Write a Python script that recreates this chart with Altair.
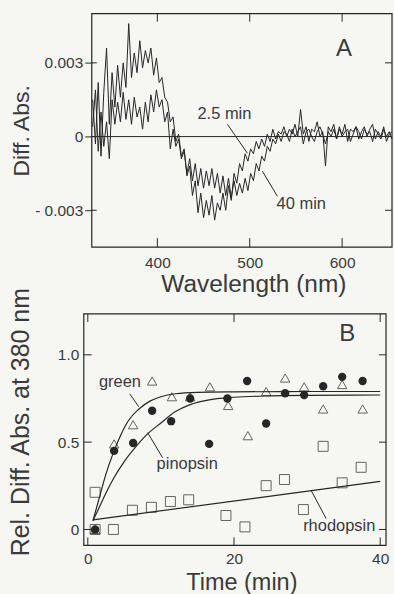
import altair as alt
import pandas as pd

# ---------------- data ----------------
wavelength_nm = list(range(330, 655, 3))

diff_abs_2_5min_mAbs = [
    1.5, -0.3, 2.2, -0.8, 1.8, 3.6, 0.5, 2.6, 1.2, 2.9,
    1.6, 3.0, 2.0, 4.6, 2.4, 3.4, 2.6, 3.9, 2.8, 3.5,
    3.0, 3.6, 2.5, 3.2, 2.2, 2.4, 1.6, 1.4, 0.6, 0.8,
    -0.2, 0.1, -0.8, -0.5, -1.6, -1.2, -2.4, -1.8, -3.1, -2.3,
    -3.3, -2.6, -3.2, -2.4, -3.4, -2.7, -3.0, -2.3, -3.0, -2.0,
    -2.6, -1.5, -1.9, -1.1, -1.4, -0.7, -1.0, -0.5, -0.7, -0.2,
    -0.5, -0.1, -0.4, 0.1, -0.2, 0.3, -0.1, 0.2, 0.1, 0.4,
    0.0, 0.3, 0.1, 0.5, 0.0, 1.1, 0.1, 0.4, -0.2, 0.3,
    0.2, 0.6, 0.0, 0.2, -1.2, 0.4, 0.2, 0.5, -0.1, 0.3,
    0.1, 0.5, -0.2, 0.3, 0.2, 0.4, -0.1, 0.2, 0.4, 0.0,
    0.3, 0.5, -0.1, 0.2, 0.0, 0.4, -0.2, 0.1, 0.2,
]

diff_abs_40min_mAbs = [
    0.4, 1.9, -0.6, 1.0, -0.4, 0.6, -0.9, 1.5, 0.5, 1.4,
    0.6, 1.8, 0.7, 1.5, 0.5, 1.6, 0.8, 1.2, 0.3, 1.4,
    0.6, 1.7, 1.0, 1.9, 1.2, 1.5, 0.6, 1.0, -0.5, 0.3,
    -0.4, -0.1, -0.9, -0.6, -1.5, -0.9, -1.8, -1.1, -2.0, -1.3,
    -2.1, -1.4, -2.0, -1.3, -2.1, -1.5, -2.3, -1.6, -2.4, -1.7,
    -2.5, -1.8, -2.4, -1.9, -2.3, -1.7, -2.2, -1.5, -1.8, -1.1,
    -1.4, -0.8, -1.0, -0.4, -0.6, -0.1, -0.3, 0.1, -0.2, 0.2,
    0.1, -0.2, 0.3, 0.0, 0.2, 0.4, -0.3, 0.2, 0.3, 0.0,
    -0.2, 0.2, 0.4, 0.1, -0.3, 0.2, 0.0, 0.3, -0.1, 0.4,
    0.0, 0.2, 0.3, -0.2, 0.1, 0.4, 0.2, -0.1, 0.3, 0.1,
    0.2, -0.2, 0.3, 0.1, -0.1, 0.3, 0.0, 0.2, -0.1,
]

time_pinopsin = [1.0, 3.6, 6.2, 8.8, 11.4, 14.0, 16.6, 19.1, 21.8, 24.4, 27.0, 29.6, 32.2, 34.8, 37.6]
rel_pinopsin = [0.0, 0.45, 0.495, 0.68, 0.62, 0.75, 0.49, 0.75, 0.85, 0.607, 0.78, 0.77, 0.82, 0.874, 0.85]

time_green = [1.0, 3.6, 6.2, 8.8, 11.5, 14.0, 16.7, 19.2, 21.9, 24.4, 27.0, 29.6, 32.2, 34.8, 37.6]
rel_green = [0.0, 0.49, 0.60, 0.85, 0.76, 0.76, 0.817, 0.71, 0.537, 0.79, 0.867, 0.817, 0.69, 0.83, 0.69]

time_rhodopsin = [1.0, 1.0, 3.5, 6.1, 8.7, 11.3, 13.8, 18.9, 21.5, 24.4, 26.9, 29.5, 32.2, 34.8, 37.4]
rel_rhodopsin = [0.213, 0.0, 0.0, 0.11, 0.127, 0.16, 0.17, 0.08, 0.015, 0.251, 0.286, 0.114, 0.476, 0.267, 0.356]

fit_green_t = [0.7, 1.5, 2.5, 3.5, 4.5, 5.5, 7.0, 8.5, 10.0, 12.0, 15.0, 20.0, 30.0, 40.0]
fit_green_v = [0.05, 0.17, 0.32, 0.44, 0.54, 0.62, 0.69, 0.735, 0.76, 0.777, 0.785, 0.788, 0.79, 0.79]

fit_pinopsin_t = [0.7, 1.5, 2.5, 3.5, 5.0, 6.5, 8.0, 10.0, 12.0, 14.0, 17.0, 20.0, 25.0, 30.0, 40.0]
fit_pinopsin_v = [0.05, 0.12, 0.21, 0.29, 0.39, 0.47, 0.54, 0.61, 0.675, 0.715, 0.745, 0.757, 0.765, 0.768, 0.77]

fit_rhodopsin_t = [0.7, 40.0]
fit_rhodopsin_v = [0.055, 0.275]

spec_y_ticks = [0.003, 0.0, -0.003]
wl_ticks = [400, 500, 600]
time_ticks = [0, 20, 40]
rel_ticks = [0.0, 0.5, 1.0]

# ---------------- style ----------------
FONT = "Liberation Sans"
INK = "#262626"
TXT = "#3a3a3a"
BG = "#f6f6f3"
WA, HA = 301, 234
WB, HB = 295, 232

xA = alt.Scale(domain=[329, 654], nice=False, zero=False)
yA = alt.Scale(domain=[-0.0045, 0.005], nice=False, zero=False)
xB = alt.Scale(domain=[-0.55, 40.8], range=[-8, WB], nice=False, zero=False)
yB = alt.Scale(domain=[-0.091, 1.234], nice=False, zero=False)

axXA = alt.Axis(values=wl_ticks, title="Wavelength (nm)", format="d", ticks=False, domain=False,
                grid=False, labelPadding=8, titleX=162, titleY=37, titleBaseline="middle",
                titleFontSize=24.5)
axYA = alt.Axis(values=spec_y_ticks, title="Diff. Abs.", ticks=True, tickSize=7, tickColor=INK,
                domain=False, grid=False, labelPadding=2, titleX=-70, titleBaseline="middle",
                titleFontSize=23,
                labelExpr="datum.value > 0 ? format(datum.value, '.3f') : (datum.value < 0 ? '- ' + format(-datum.value, '.3f') : '0')")
axXB = alt.Axis(values=time_ticks, title="Time (min)", format="d", ticks=False, domain=False, grid=False,
                labelPadding=6, titleX=150, titleY=37.5, titleBaseline="middle", titleFontSize=23.5)
axYB = alt.Axis(values=rel_ticks, title="Rel. Diff. Abs. at 380 nm", ticks=False, domain=False, grid=False,
                offset=8, labelPadding=5, titleX=-63, titleY=108, titleBaseline="middle",
                titleFontSize=25,
                labelExpr="datum.value == 0 ? '0' : format(datum.value, '.1f')")


def XA(f):
    return alt.X(f, type="quantitative", scale=xA, axis=axXA)


def YA(f):
    return alt.Y(f, type="quantitative", scale=yA, axis=axYA)


def XB(f):
    return alt.X(f, type="quantitative", scale=xB, axis=axXB)


def YB(f):
    return alt.Y(f, type="quantitative", scale=yB, axis=axYB)


one = pd.DataFrame({"k": [0]})

# ---------------- panel A ----------------
n = len(wavelength_nm)
spec_df = pd.DataFrame({
    "nm": wavelength_nm * 2,
    "mAbs": diff_abs_2_5min_mAbs + diff_abs_40min_mAbs,
    "series": ["2.5 min"] * n + ["40 min"] * n,
})
spec_df["absorb"] = spec_df["mAbs"] / 1000.0

traces = alt.Chart(spec_df).mark_line(color=INK, strokeWidth=1.0).encode(
    x=XA("nm"), y=YA("absorb"), detail="series:N")

zeroA = alt.Chart(pd.DataFrame({"absorb": [0.0]})).mark_rule(color=INK, strokeWidth=1).encode(
    y=YA("absorb"), x=alt.value(0), x2=alt.value(WA))

frameA = alt.Chart(one).mark_rect(fillOpacity=0, stroke=INK, strokeWidth=1.2).encode(
    x=alt.value(0), x2=alt.value(WA), y=alt.value(0), y2=alt.value(HA))

wl_df = pd.DataFrame({"nm": wl_ticks})
sy_df = pd.DataFrame({"absorb": spec_y_ticks})
tA_top = alt.Chart(wl_df).mark_rule(color=INK).encode(x=XA("nm"), y=alt.value(0), y2=alt.value(8))
tA_bot = alt.Chart(wl_df).mark_rule(color=INK).encode(x=XA("nm"), y=alt.value(HA - 9), y2=alt.value(HA))
tA_left = alt.Chart(sy_df).mark_rule(color=INK).encode(y=YA("absorb"), x=alt.value(0), x2=alt.value(5))
tA_right = alt.Chart(sy_df).mark_rule(color=INK).encode(y=YA("absorb"), x=alt.value(WA - 7), x2=alt.value(WA))

labA = pd.DataFrame({"nm": [472.6, 555.8], "absorb": [0.0009, -0.00275], "t": ["2.5 min", "40 min"]})
textA = alt.Chart(labA).mark_text(font=FONT, fontSize=16.5, color=TXT).encode(
    x=XA("nm"), y=YA("absorb"), text="t:N")
letterA = alt.Chart(pd.DataFrame({"nm": [602.0], "absorb": [0.00358], "t": ["A"]})).mark_text(
    font=FONT, fontSize=24, color=TXT).encode(x=XA("nm"), y=YA("absorb"), text="t:N")
leadA = pd.DataFrame({"nm": [475.9, 513.7], "absorb": [0.000495, -0.00141],
                      "nm2": [497.5, 529.9], "absorb2": [-0.00068, -0.00243]})
leadersA = alt.Chart(leadA).mark_rule(color=INK, strokeWidth=1).encode(
    x=XA("nm"), y=YA("absorb"), x2="nm2:Q", y2="absorb2:Q")

panelA = alt.layer(traces, zeroA, tA_top, tA_bot, tA_left, tA_right,
                   leadersA, textA, letterA, frameA).properties(width=WA, height=HA)

# ---------------- panel B ----------------
fits = pd.DataFrame({
    "t": fit_green_t + fit_pinopsin_t + fit_rhodopsin_t,
    "v": fit_green_v + fit_pinopsin_v + fit_rhodopsin_v,
    "fit": ["green"] * len(fit_green_t) + ["pinopsin"] * len(fit_pinopsin_t) + ["rhodopsin"] * len(fit_rhodopsin_t),
})
fitlines = alt.Chart(fits).mark_line(color=INK, strokeWidth=1.2, interpolate="monotone").encode(
    x=XB("t"), y=YB("v"), detail="fit:N")

pin_df = pd.DataFrame({"t": time_pinopsin, "v": rel_pinopsin})
grn_df = pd.DataFrame({"t": time_green, "v": rel_green})
rho_df = pd.DataFrame({"t": time_rhodopsin, "v": rel_rhodopsin})

squares = alt.Chart(rho_df).mark_point(shape="square", filled=False, size=100, color=INK, strokeWidth=1).encode(
    x=XB("t"), y=YB("v"))
triangles = alt.Chart(grn_df).mark_point(shape="triangle-up", filled=False, size=90, color=INK, strokeWidth=1).encode(
    x=XB("t"), y=YB("v"))
circles = alt.Chart(pin_df).mark_point(shape="circle", filled=True, size=70, color=INK, opacity=1).encode(
    x=XB("t"), y=YB("v"))

frameB = alt.Chart(one).mark_rect(fillOpacity=0, stroke=INK, strokeWidth=1.2).encode(
    x=alt.value(-8), x2=alt.value(WB), y=alt.value(0), y2=alt.value(HB))

tt_df = pd.DataFrame({"t": time_ticks})
rt_df = pd.DataFrame({"v": rel_ticks})
tB_top = alt.Chart(tt_df).mark_rule(color=INK).encode(x=XB("t"), y=alt.value(0), y2=alt.value(8))
tB_bot = alt.Chart(tt_df).mark_rule(color=INK).encode(x=XB("t"), y=alt.value(HB - 8), y2=alt.value(HB))
tB_left = alt.Chart(rt_df).mark_rule(color=INK).encode(y=YB("v"), x=alt.value(-8), x2=alt.value(0))
tB_right = alt.Chart(rt_df).mark_rule(color=INK).encode(y=YB("v"), x=alt.value(WB - 7), x2=alt.value(WB))

labB = pd.DataFrame({"t": [4.4, 13.6, 34.4], "v": [0.846, 0.377, 0.017],
                     "s": ["green", "pinopsin", "rhodopsin"]})
textB = alt.Chart(labB).mark_text(font=FONT, fontSize=16.5, color=TXT).encode(
    x=XB("t"), y=YB("v"), text="s:N")
letterB = alt.Chart(pd.DataFrame({"t": [35.5], "v": [1.12], "s": ["B"]})).mark_text(
    font=FONT, fontSize=24, color=TXT).encode(x=XB("t"), y=YB("v"), text="s:N")
leadB = pd.DataFrame({"t": [5.73, 8.19, 30.56], "v": [0.777, 0.554, 0.223],
                      "t2": [6.96, 10.23, 32.6], "v2": [0.703, 0.411, 0.063]})
leadersB = alt.Chart(leadB).mark_rule(color=INK, strokeWidth=1).encode(
    x=XB("t"), y=YB("v"), x2="t2:Q", y2="v2:Q")

panelB = alt.layer(fitlines, squares, triangles, circles, tB_top, tB_bot, tB_left, tB_right,
                   leadersB, textB, letterB, frameB).properties(width=WB, height=HB)

chart = alt.vconcat(panelA, panelB, spacing=67, bounds="flush").properties(
    padding={"left": 8, "top": 12, "right": 0, "bottom": 0},
    background=BG,
).configure_view(stroke=None).configure_axis(
    labelFont=FONT, titleFont=FONT, labelFontSize=15.5, titleFontSize=24,
    titleFontWeight="normal", labelColor=TXT, titleColor=TXT,
)

chart.save("out.html", embed_options={"renderer": "svg", "actions": False})
